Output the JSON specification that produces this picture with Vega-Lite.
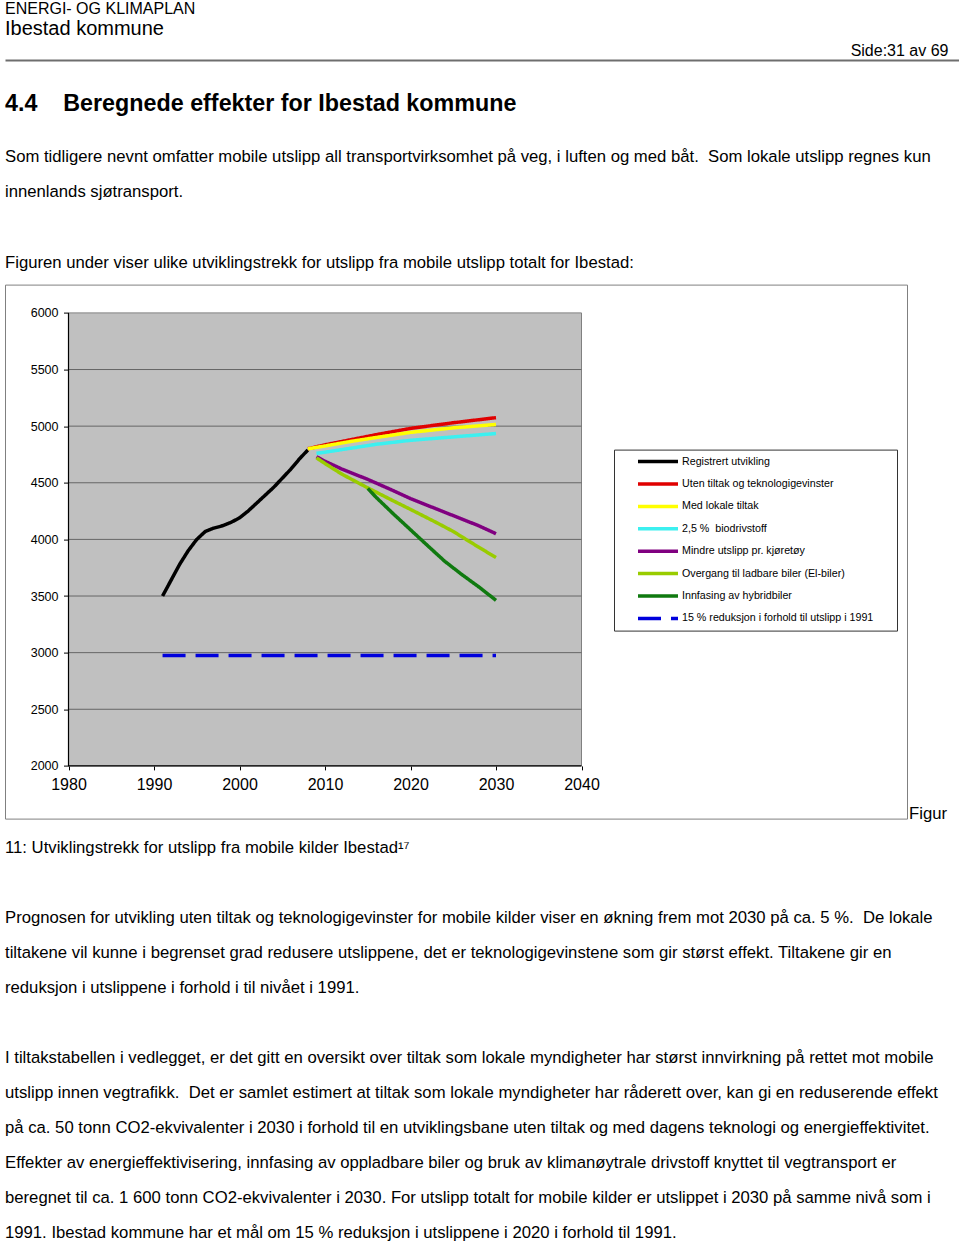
{
  "$schema": "https://vega.github.io/schema/vega-lite/v6.json",
  "background": "white",
  "padding": {"left": 4, "top": 0, "right": 0, "bottom": 0},
  "spacing": 17.3,
  "resolve": {"legend": {"color": "independent", "strokeDash": "independent"}},
  "config": {
    "view": {"stroke": null},
    "font": "Liberation Sans",
    "title": {"anchor": "start", "frame": "group", "baseline": "top", "color": "#000000", "subtitleColor": "#000000", "font": "Liberation Sans", "subtitleFont": "Liberation Sans", "fontWeight": "normal", "limit": 2000},
    "axis": {"labelFont": "Liberation Sans", "titleFont": "Liberation Sans", "labelColor": "#000000", "titleColor": "#000000", "tickColor": "#000000"},
    "legend": {
      "labelFont": "Liberation Sans", "labelFontSize": 10.7, "labelColor": "#000000", "labelLimit": 400,
      "symbolType": "M-4,0H4", "symbolSize": 100, "symbolStrokeWidth": 3.5,
      "symbolOffset": 32, "labelOffset": 17,
      "padding": 5, "rowPadding": 8.4,
      "strokeColor": "#333333", "fillColor": "#ffffff", "strokeWidth": 1,
      "titleOrient": "right", "titleFontSize": 1, "titlePadding": 19, "titleColor": "#ffffff"
    }
  },
  "vconcat": [
    {
      "width": 954,
      "height": 13.7,
      "title": {"text": "ENERGI- OG KLIMAPLAN", "subtitle": "Ibestad kommune", "fontSize": 16, "subtitleFontSize": 20, "subtitlePadding": 2, "offset": 3.5},
      "data": {"values": []},
      "mark": {"type": "point"},
      "encoding": {
        "x": {"field": "p", "type": "quantitative", "scale": {"domain": [0, 1]},
          "axis": {"orient": "top", "domain": true, "domainColor": "#6e6e6e", "domainWidth": 2, "ticks": false, "labels": false, "grid": false,
            "title": "Side:31 av 69", "titleX": 943, "titleY": -2, "titleAlign": "right", "titleBaseline": "bottom", "titleFontSize": 16, "titleFontWeight": "normal"}}
      }
    },
    {
      "width": 954,
      "height": 34.5,
      "title": {
        "text": "4.4\u00a0\u00a0\u00a0\u00a0Beregnede effekter for Ibestad kommune",
        "fontSize": 23.3, "fontWeight": "bold",
        "subtitle": [
          "Som tidligere nevnt omfatter mobile utslipp all transportvirksomhet på veg, i luften og med båt.\u00a0 Som lokale utslipp regnes kun",
          "innenlands sjøtransport."
        ],
        "subtitleFontSize": 16.7, "subtitleLineHeight": 35, "subtitlePadding": 32.7, "offset": 0
      },
      "data": {"values": []},
      "mark": {"type": "point"}
    },
    {
      "width": 902,
      "height": 534,
      "view": {"stroke": "#808080", "strokeWidth": 1, "fill": "#ffffff"},
      "title": {
        "text": "Figuren under viser ulike utviklingstrekk for utslipp fra mobile utslipp totalt for Ibestad:",
        "fontSize": 16.7, "offset": 13.3
      },
      "resolve": {"axis": {"x": "independent", "y": "independent"}},
      "layer": [
        {
          "data": {"values": [{"flate": "plott"}]},
          "mark": {"type": "rect", "fill": "#c0c0c0", "stroke": "#808080", "strokeWidth": 1},
          "encoding": {
            "x": {"datum": 1980, "type": "quantitative", "scale": {"domain": [1972.573, 2078.07], "nice": false, "zero": false}, "axis": null},
            "x2": {"datum": 2040},
            "y": {"datum": 2000, "type": "quantitative", "scale": {"domain": [1534.7, 6249.9], "nice": false, "zero": false}, "axis": null},
            "y2": {"datum": 6000}
          }
        },
        {
          "data": {"values": [{"v": 2500}, {"v": 3000}, {"v": 3500}, {"v": 4000}, {"v": 4500}, {"v": 5000}, {"v": 5500}]},
          "mark": {"type": "rule", "stroke": "#666666", "strokeWidth": 1},
          "encoding": {
            "y": {"field": "v", "type": "quantitative", "scale": {"domain": [1534.7, 6249.9], "nice": false, "zero": false},
              "axis": {"orient": "right", "domain": false, "ticks": false, "labels": false, "grid": false,
                "title": "Figur", "titleAngle": 0, "titleAlign": "left", "titleBaseline": "alphabetic", "titleX": 1.5, "titleY": 533.5,
                "titleFontSize": 16.7, "titleFontWeight": "normal"}},
            "x": {"datum": 1980, "type": "quantitative", "scale": {"domain": [1972.573, 2078.07], "nice": false, "zero": false}, "axis": null},
            "x2": {"datum": 2040}
          }
        },
        {
          "data": {"values": [{"akse": "y"}]},
          "mark": {"type": "rule", "stroke": "#000000", "strokeWidth": 1.2},
          "encoding": {
            "x": {"datum": 1980, "type": "quantitative", "scale": {"domain": [1972.573, 2078.07], "nice": false, "zero": false}, "axis": null},
            "y": {"datum": 2000, "type": "quantitative", "scale": {"domain": [1534.7, 6249.9], "nice": false, "zero": false}, "axis": null},
            "y2": {"datum": 6000}
          }
        },
        {
          "data": {"values": [{"akse": "x"}]},
          "mark": {"type": "rule", "stroke": "#000000", "strokeWidth": 1.2},
          "encoding": {
            "y": {"datum": 2000, "type": "quantitative", "scale": {"domain": [1534.7, 6249.9], "nice": false, "zero": false}, "axis": null},
            "x": {"datum": 1980, "type": "quantitative", "scale": {"domain": [1972.573, 2078.07], "nice": false, "zero": false}, "axis": null},
            "x2": {"datum": 2040}
          }
        },
        {
          "data": {"values": [
            {"series": "Registrert utvikling", "year": 1991, "value": 3500},
            {"series": "Registrert utvikling", "year": 1992, "value": 3640},
            {"series": "Registrert utvikling", "year": 1993, "value": 3780},
            {"series": "Registrert utvikling", "year": 1994, "value": 3900},
            {"series": "Registrert utvikling", "year": 1995, "value": 4000},
            {"series": "Registrert utvikling", "year": 1996, "value": 4070},
            {"series": "Registrert utvikling", "year": 1997, "value": 4100},
            {"series": "Registrert utvikling", "year": 1998, "value": 4120},
            {"series": "Registrert utvikling", "year": 1999, "value": 4150},
            {"series": "Registrert utvikling", "year": 2000, "value": 4190},
            {"series": "Registrert utvikling", "year": 2001, "value": 4250},
            {"series": "Registrert utvikling", "year": 2002, "value": 4320},
            {"series": "Registrert utvikling", "year": 2003, "value": 4390},
            {"series": "Registrert utvikling", "year": 2004, "value": 4460},
            {"series": "Registrert utvikling", "year": 2005, "value": 4540},
            {"series": "Registrert utvikling", "year": 2006, "value": 4620},
            {"series": "Registrert utvikling", "year": 2007, "value": 4710},
            {"series": "Registrert utvikling", "year": 2008, "value": 4790},
            {"series": "Uten tiltak og teknologigevinster", "year": 2008, "value": 4800},
            {"series": "Uten tiltak og teknologigevinster", "year": 2010, "value": 4835},
            {"series": "Uten tiltak og teknologigevinster", "year": 2013, "value": 4880},
            {"series": "Uten tiltak og teknologigevinster", "year": 2016, "value": 4925},
            {"series": "Uten tiltak og teknologigevinster", "year": 2020, "value": 4980},
            {"series": "Uten tiltak og teknologigevinster", "year": 2025, "value": 5030},
            {"series": "Uten tiltak og teknologigevinster", "year": 2030, "value": 5075},
            {"series": "Med lokale tiltak", "year": 2008, "value": 4800},
            {"series": "Med lokale tiltak", "year": 2010, "value": 4825},
            {"series": "Med lokale tiltak", "year": 2013, "value": 4865},
            {"series": "Med lokale tiltak", "year": 2016, "value": 4900},
            {"series": "Med lokale tiltak", "year": 2020, "value": 4945},
            {"series": "Med lokale tiltak", "year": 2025, "value": 4985},
            {"series": "Med lokale tiltak", "year": 2030, "value": 5015},
            {"series": "2,5 %\u00a0 biodrivstoff", "year": 2009, "value": 4760},
            {"series": "2,5 %\u00a0 biodrivstoff", "year": 2010, "value": 4770},
            {"series": "2,5 %\u00a0 biodrivstoff", "year": 2013, "value": 4805},
            {"series": "2,5 %\u00a0 biodrivstoff", "year": 2016, "value": 4840},
            {"series": "2,5 %\u00a0 biodrivstoff", "year": 2020, "value": 4875},
            {"series": "2,5 %\u00a0 biodrivstoff", "year": 2025, "value": 4905},
            {"series": "2,5 %\u00a0 biodrivstoff", "year": 2030, "value": 4935},
            {"series": "Mindre utslipp pr. kjøretøy", "year": 2009, "value": 4730},
            {"series": "Mindre utslipp pr. kjøretøy", "year": 2010, "value": 4690},
            {"series": "Mindre utslipp pr. kjøretøy", "year": 2012, "value": 4620},
            {"series": "Mindre utslipp pr. kjøretøy", "year": 2015, "value": 4530},
            {"series": "Mindre utslipp pr. kjøretøy", "year": 2018, "value": 4430},
            {"series": "Mindre utslipp pr. kjøretøy", "year": 2020, "value": 4360},
            {"series": "Mindre utslipp pr. kjøretøy", "year": 2023, "value": 4270},
            {"series": "Mindre utslipp pr. kjøretøy", "year": 2025, "value": 4210},
            {"series": "Mindre utslipp pr. kjøretøy", "year": 2028, "value": 4120},
            {"series": "Mindre utslipp pr. kjøretøy", "year": 2030, "value": 4050},
            {"series": "Overgang til ladbare biler (El-biler)", "year": 2009, "value": 4720},
            {"series": "Overgang til ladbare biler (El-biler)", "year": 2010, "value": 4670},
            {"series": "Overgang til ladbare biler (El-biler)", "year": 2012, "value": 4575},
            {"series": "Overgang til ladbare biler (El-biler)", "year": 2015, "value": 4455},
            {"series": "Overgang til ladbare biler (El-biler)", "year": 2018, "value": 4340},
            {"series": "Overgang til ladbare biler (El-biler)", "year": 2020, "value": 4265},
            {"series": "Overgang til ladbare biler (El-biler)", "year": 2023, "value": 4150},
            {"series": "Overgang til ladbare biler (El-biler)", "year": 2025, "value": 4070},
            {"series": "Overgang til ladbare biler (El-biler)", "year": 2028, "value": 3930},
            {"series": "Overgang til ladbare biler (El-biler)", "year": 2030, "value": 3840},
            {"series": "Innfasing av hybridbiler", "year": 2015, "value": 4450},
            {"series": "Innfasing av hybridbiler", "year": 2016, "value": 4370},
            {"series": "Innfasing av hybridbiler", "year": 2018, "value": 4225},
            {"series": "Innfasing av hybridbiler", "year": 2020, "value": 4085},
            {"series": "Innfasing av hybridbiler", "year": 2022, "value": 3945},
            {"series": "Innfasing av hybridbiler", "year": 2024, "value": 3807},
            {"series": "Innfasing av hybridbiler", "year": 2026, "value": 3690},
            {"series": "Innfasing av hybridbiler", "year": 2028, "value": 3580},
            {"series": "Innfasing av hybridbiler", "year": 2030, "value": 3462},
            {"series": "15 % reduksjon i forhold til utslipp i 1991", "year": 1991, "value": 2975},
            {"series": "15 % reduksjon i forhold til utslipp i 1991", "year": 2030, "value": 2975}
          ]},
          "mark": {"type": "line", "strokeWidth": 3.5},
          "encoding": {
            "x": {"field": "year", "type": "quantitative", "scale": {"domain": [1972.573, 2078.07], "nice": false, "zero": false},
              "axis": {"orient": "bottom", "offset": -52.7, "values": [1980, 1990, 2000, 2010, 2020, 2030, 2040], "format": "d",
                "domain": false, "grid": false, "ticks": true, "tickSize": 4, "labelFontSize": 16, "labelPadding": 7,
                "labelFlush": false, "labelOverlap": false, "title": null}},
            "y": {"field": "value", "type": "quantitative", "scale": {"domain": [1534.7, 6249.9], "nice": false, "zero": false},
              "axis": {"orient": "left", "offset": -63.5, "values": [2000, 2500, 3000, 3500, 4000, 4500, 5000, 5500, 6000], "format": "d",
                "domain": false, "grid": false, "ticks": true, "tickSize": 5, "labelFontSize": 12.5, "labelPadding": 5.5, "title": null}},
            "color": {"field": "series", "type": "nominal", "title": "\u00a0",
              "scale": {
                "domain": ["Registrert utvikling", "Uten tiltak og teknologigevinster", "Med lokale tiltak", "2,5 %\u00a0 biodrivstoff", "Mindre utslipp pr. kjøretøy", "Overgang til ladbare biler (El-biler)", "Innfasing av hybridbiler", "15 % reduksjon i forhold til utslipp i 1991"],
                "range": ["#000000", "#e00000", "#ffff00", "#3cf0f0", "#800080", "#99cc00", "#107a10", "#0000dd"]
              },
              "legend": {"orient": "none", "legendX": 609, "legendY": 165}},
            "strokeDash": {"field": "series", "type": "nominal", "title": "\u00a0",
              "scale": {
                "domain": ["Registrert utvikling", "Uten tiltak og teknologigevinster", "Med lokale tiltak", "2,5 %\u00a0 biodrivstoff", "Mindre utslipp pr. kjøretøy", "Overgang til ladbare biler (El-biler)", "Innfasing av hybridbiler", "15 % reduksjon i forhold til utslipp i 1991"],
                "range": [[1, 0], [1, 0], [1, 0], [1, 0], [1, 0], [1, 0], [1, 0], [23, 10]]
              }}
          }
        }
      ]
    },
    {
      "width": 954,
      "height": 35,
      "title": {
        "text": "11: Utviklingstrekk for utslipp fra mobile kilder Ibestad\u00b9\u2077",
        "fontSize": 16.7,
        "subtitle": [
          "Prognosen for utvikling uten tiltak og teknologigevinster for mobile kilder viser en økning frem mot 2030 på ca. 5 %.\u00a0 De lokale",
          "tiltakene vil kunne i begrenset grad redusere utslippene, det er teknologigevinstene som gir størst effekt. Tiltakene gir en",
          "reduksjon i utslippene i forhold i til nivået i 1991."
        ],
        "subtitleFontSize": 16.7, "subtitleLineHeight": 35, "subtitlePadding": 53.3, "offset": 0
      },
      "data": {"values": []},
      "mark": {"type": "point"}
    },
    {
      "width": 954,
      "height": 1,
      "title": {
        "text": [
          "I tiltakstabellen i vedlegget, er det gitt en oversikt over tiltak som lokale myndigheter har størst innvirkning på rettet mot mobile",
          "utslipp innen vegtrafikk.\u00a0 Det er samlet estimert at tiltak som lokale myndigheter har råderett over, kan gi en reduserende effekt",
          "på ca. 50 tonn CO2-ekvivalenter i 2030 i forhold til en utviklingsbane uten tiltak og med dagens teknologi og energieffektivitet.",
          "Effekter av energieffektivisering, innfasing av oppladbare biler og bruk av klimanøytrale drivstoff knyttet til vegtransport er",
          "beregnet til ca. 1 600 tonn CO2-ekvivalenter i 2030. For utslipp totalt for mobile kilder er utslippet i 2030 på samme nivå som i",
          "1991. Ibestad kommune har et mål om 15 % reduksjon i utslippene i 2020 i forhold til 1991."
        ],
        "fontSize": 16.7, "lineHeight": 35, "offset": 0
      },
      "data": {"values": []},
      "mark": {"type": "point"}
    }
  ]
}
